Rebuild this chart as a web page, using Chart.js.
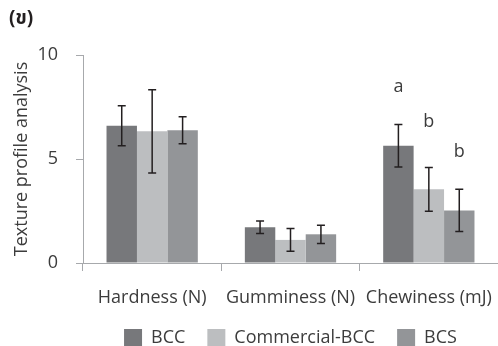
<!DOCTYPE html>
<html>
<head>
<meta charset="utf-8">
<script src="https://cdn.jsdelivr.net/npm/chart.js@4.4.0/dist/chart.umd.min.js"></script>
<style>
  html, body { margin: 0; padding: 0; background: #fff; }
  #wrap { width: 498px; height: 346px; position: relative; }
</style>
</head>
<body>
<div id="wrap"><canvas id="textureChart"></canvas></div>
<script>
const categories = ['Hardness (N)', 'Gumminess (N)', 'Chewiness (mJ)'];
const seriesNames = ['BCC', 'Commercial-BCC', 'BCS'];
const bccValues = [6.6, 1.72, 5.64];
const bccErrors = [0.96, 0.3, 1.02];
const commercialValues = [6.33, 1.11, 3.54];
const commercialErrors = [2.0, 0.55, 1.05];
const bcsValues = [6.38, 1.38, 2.53];
const bcsErrors = [0.65, 0.44, 1.02];
const yTicks = [0, 5, 10];
// significance letters over the Chewiness group, one per series
const letterCategory = 2;
const letterLabels = ['a', 'b', 'b'];
const letterHeights = [8.46, 6.78, 5.34];

const seriesColors = ['#77787b', '#bcbec0', '#939598'];
const axisColor = '#a7a9ac';
const textColor = '#3c3c3c';
const fontFamily = '"Open Sans", "Noto Sans", sans-serif';

const extrasPlugin = {
  id: 'extras',
  afterDatasetsDraw(chart) {
    const { ctx } = chart;
    const y = chart.scales.y;
    ctx.save();
    ctx.strokeStyle = '#231f20';
    ctx.lineWidth = 1.5;
    chart.data.datasets.forEach((ds, di) => {
      const meta = chart.getDatasetMeta(di);
      meta.data.forEach((bar, i) => {
        const v = ds.data[i];
        const e = ds.errors[i];
        const top = y.getPixelForValue(v + e);
        const bot = y.getPixelForValue(v - e);
        const x = bar.x;
        const cap = 4;
        ctx.beginPath();
        ctx.moveTo(x, top); ctx.lineTo(x, bot);
        ctx.moveTo(x - cap, top); ctx.lineTo(x + cap, top);
        ctx.moveTo(x - cap, bot); ctx.lineTo(x + cap, bot);
        ctx.stroke();
      });
    });
    ctx.fillStyle = textColor;
    ctx.font = '18px ' + fontFamily;
    ctx.textAlign = 'center';
    ctx.textBaseline = 'middle';
    letterLabels.forEach((lab, di) => {
      const bar = chart.getDatasetMeta(di).data[letterCategory];
      ctx.fillText(lab, bar.x, y.getPixelForValue(letterHeights[di]));
    });
    ctx.font = 'bold 19px "Noto Sans Thai", "Noto Sans", "DejaVu Sans", sans-serif';
    ctx.textAlign = 'left';
    ctx.fillStyle = '#231f20';
    ctx.fillText('(ข)', 9, 20);
    ctx.restore();
  }
};

const valueSets = [bccValues, commercialValues, bcsValues];
const errorSets = [bccErrors, commercialErrors, bcsErrors];

new Chart(document.getElementById('textureChart'), {
  type: 'bar',
  data: {
    labels: categories,
    datasets: seriesNames.map((name, i) => ({
      label: name,
      data: valueSets[i],
      errors: errorSets[i],
      backgroundColor: seriesColors[i],
      borderWidth: 0,
      barPercentage: 1,
      categoryPercentage: 0.66
    }))
  },
  options: {
    responsive: true,
    maintainAspectRatio: false,
    animation: false,
    layout: { padding: { top: 55, right: -8, bottom: -11, left: 0 } },
    plugins: {
      legend: {
        position: 'bottom',
        fullSize: false,
        labels: {
          color: textColor,
          font: { family: fontFamily, size: 18 },
          boxWidth: 18,
          boxHeight: 18,
          padding: 22
        }
      },
      tooltip: { enabled: false }
    },
    scales: {
      x: {
        afterFit: s => { s.height = 44; s.paddingRight = 0; },
        grid: { drawOnChartArea: false, color: axisColor, tickLength: 8, offset: true },
        border: { color: axisColor },
        ticks: { color: textColor, font: { family: fontFamily, size: 18 }, padding: 16, maxRotation: 0, autoSkip: false }
      },
      y: {
        min: 0,
        max: 10,
        afterFit: s => { s.width = 83; },
        afterBuildTicks: s => { s.ticks = yTicks.map(v => ({ value: v })); },
        grid: { drawOnChartArea: false, color: axisColor, tickLength: 7 },
        border: { color: axisColor },
        ticks: { color: textColor, font: { family: fontFamily, size: 18 }, padding: 18 },
        title: {
          display: true,
          text: 'Texture profile analysis',
          color: textColor,
          font: { family: fontFamily, size: 18 },
          padding: { top: 11, bottom: 0 }
        }
      }
    }
  },
  plugins: [extrasPlugin]
});
</script>
</body>
</html>
